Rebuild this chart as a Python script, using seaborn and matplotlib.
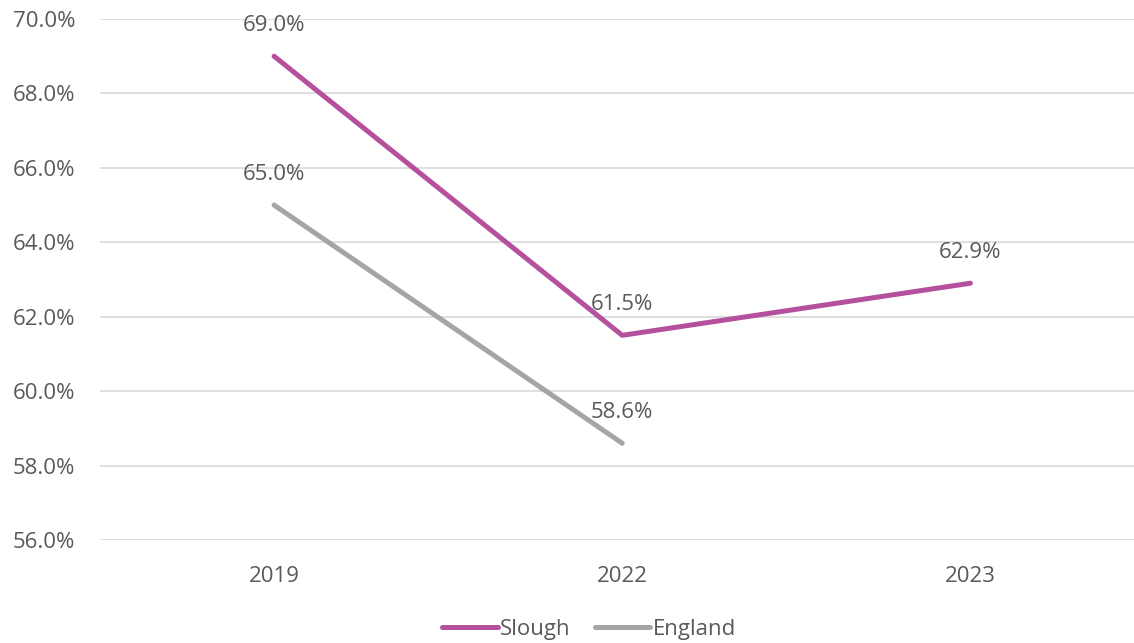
import matplotlib
matplotlib.use("Agg")
import matplotlib.pyplot as plt
import seaborn as sns
import pandas as pd
import numpy as np
from matplotlib.ticker import PercentFormatter

years = ["2019", "2022", "2023"]
slough = [0.690, 0.615, 0.629]
england = [0.650, 0.586, np.nan]

series_names = ["Slough", "England"]
colors = {"Slough": "#B5509D", "England": "#A5A5A5"}
text_color = "#595959"

df = pd.DataFrame({
    "Year": years * 2,
    "Value": slough + england,
    "Series": ["Slough"] * 3 + ["England"] * 3,
})

sns.set_theme(style="white")
plt.rcParams["font.family"] = ["Open Sans", "DejaVu Sans"]

fig = plt.figure(figsize=(11.34, 6.43), dpi=100)
ax = fig.add_axes([100 / 1134, 1 - 540 / 643, 1 - 100 / 1134, (540 - 19) / 643])

sns.lineplot(data=df, x="Year", y="Value", hue="Series", hue_order=series_names,
             palette=colors, linewidth=3.6, ax=ax, legend=False, sort=False)

ax.set_ylim(0.56, 0.70)
ax.set_xlim(-0.5, 2.47)
ax.set_yticks(np.arange(0.56, 0.7001, 0.02))
ax.yaxis.set_major_formatter(PercentFormatter(1.0, decimals=1))
ax.grid(axis="y", color="#D9D9D9", linewidth=1.2)
ax.grid(axis="x", visible=False)
for s in ax.spines.values():
    s.set_visible(False)
ax.tick_params(axis="both", length=0, labelsize=16, colors=text_color)
ax.tick_params(axis="y", pad=18)
ax.tick_params(axis="x", pad=19)
ax.set_xlabel("")
ax.set_ylabel("")

# data labels
for name, vals in [("Slough", slough), ("England", england)]:
    for i, v in enumerate(vals):
        if np.isnan(v):
            continue
        ax.annotate(f"{v * 100:.1f}%", (i, v), xytext=(0, 22), textcoords="offset points",
                    ha="center", va="center", fontsize=16, color=text_color)

handles = [plt.Line2D([], [], color=colors[n], linewidth=3.6, solid_capstyle="round") for n in series_names]
fig.legend(handles, series_names, loc="center", bbox_to_anchor=(589 / 1134, 1 - 629 / 643),
           ncol=2, frameon=False, fontsize=16, labelcolor=text_color,
           handlelength=2.5, handletextpad=0.1, columnspacing=1.1)

fig.savefig("out.png", dpi=100)
